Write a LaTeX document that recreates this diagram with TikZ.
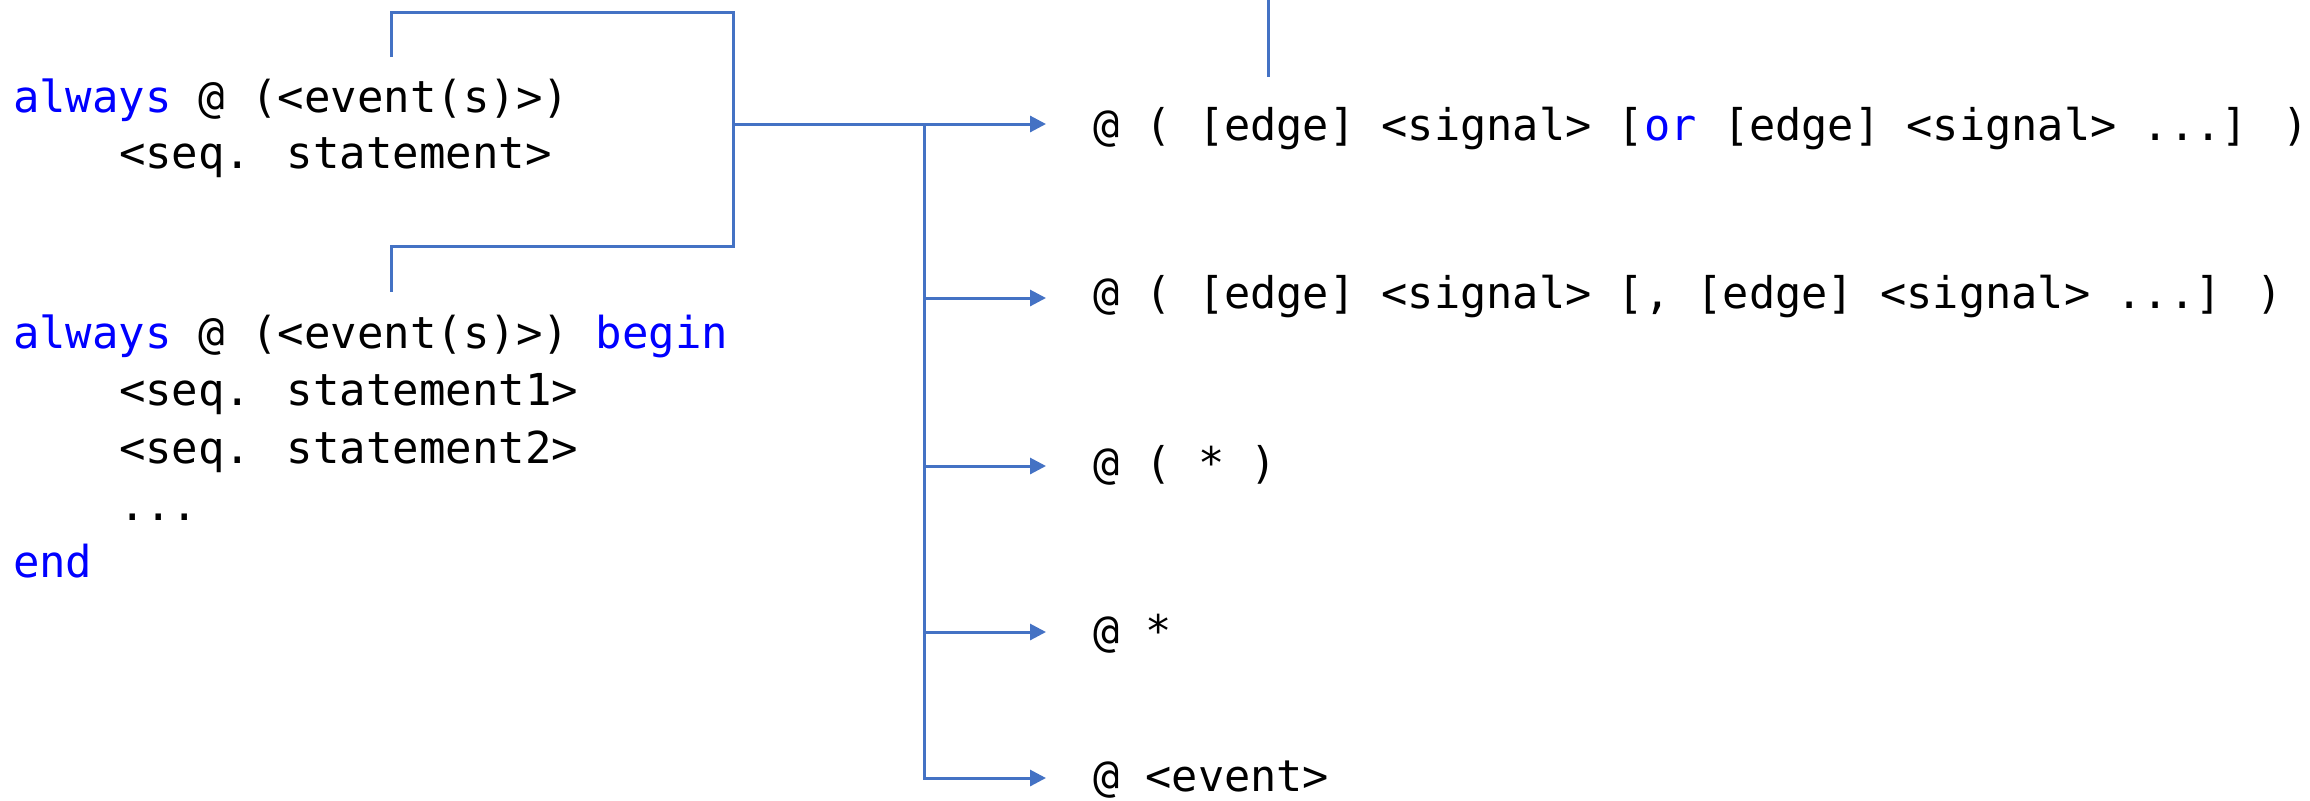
\documentclass[tikz,border=0pt]{standalone}
\usepackage{fontspec}
\usetikzlibrary{arrows.meta}
\newfontfamily\codefont{DejaVu Sans Mono}
\definecolor{kw}{RGB}{0,0,255}
\definecolor{ln}{RGB}{68,114,196}
\begin{document}
\begin{tikzpicture}[x=0.5pt,y=-0.5pt,
  code/.style={anchor=base west,inner sep=0pt,outer sep=0pt,font=\codefont\fontsize{22pt}{26pt}\selectfont},
  rcode/.style={code,font=\codefont\fontsize{21.8pt}{26pt}\selectfont},
  conn/.style={draw=ln,line width=1.5pt},
  arr/.style={conn,-{Triangle[length=8pt,width=8pt]}}]
\useasboundingbox (0,0) rectangle (2310,800);
% left code, block 1
\node[code] (a1) at (13,112) {\textcolor{kw}{always} @ (<event(s)>)};
\node[code] (a2) at (119,168) {<seq. statement>};
% left code, block 2
\node[code] (b1) at (13,348) {\textcolor{kw}{always} @ (<event(s)>) \textcolor{kw}{begin}};
\node[code] (b2) at (119,405) {<seq. statement1>};
\node[code] (b3) at (119,463) {<seq. statement2>};
\node[code] (b4) at (119,520) {...};
\node[code] (b5) at (13,577) {\textcolor{kw}{end}};
% right forms
\node[rcode] (r1) at (1093,140) {@ ( [edge] <signal> [\textcolor{kw}{or} [edge] <signal> ...] )};
\node[rcode] (r2) at (1093,308) {@ ( [edge] <signal> [, [edge] <signal> ...] )};
\node[rcode] (r3) at (1093,478) {@ ( * )};
\node[rcode] (r4) at (1093,646) {@ *};
\node[rcode] (r5) at (1093,791) {@ <event>};
% coordinates
\coordinate (s1) at (391,57);
\coordinate (s2) at (391,292);
\coordinate (m) at (733,124);
\coordinate (j) at (924,124);
\coordinate (t1) at (1046,124);
\coordinate (t2) at (1046,298);
\coordinate (t3) at (1046,466);
\coordinate (t4) at (1046,632);
\coordinate (t5) at (1046,778);
\coordinate (u1) at (1268,0);
\coordinate (u2) at (1268,77);
% bracket
\draw[conn] (s1) -- (391,12) -- (733,12) -- (733,246) -- (391,246) -- (s2);
% trunk and arrows
\draw[arr] (m) -- (t1);
\draw[arr] (j) |- (t5);
\draw[arr] (j |- t2) -- (t2);
\draw[arr] (j |- t3) -- (t3);
\draw[arr] (j |- t4) -- (t4);
% top stub
\draw[conn] (u1) -- (u2);
\end{tikzpicture}
\end{document}
